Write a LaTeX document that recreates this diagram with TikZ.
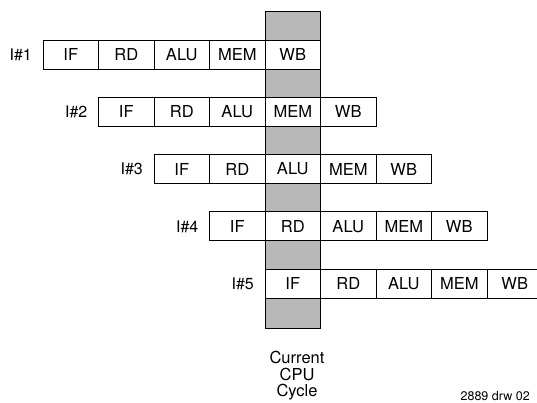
\documentclass[tikz,border=0pt]{standalone}
\usepackage{fontspec}
\setmainfont{TeX Gyre Heros}
\usetikzlibrary{positioning}

\begin{document}
\begin{tikzpicture}[
    x=1pt, y=-1pt,
    stagebox/.style={draw, fill=white, line width=0.9pt, inner sep=0pt, outer sep=0pt,
                     minimum width=55.5pt, minimum height=29pt, font=\fontsize{16.5}{18}\selectfont},
    instlabel/.style={font=\fontsize{16}{18}\selectfont, inner sep=0pt},
    cyclecol/.style={draw, fill=black!28, line width=0.9pt, inner sep=0pt, outer sep=0pt,
                     minimum width=55.7pt, minimum height=317pt},
]
    \useasboundingbox (0,0) rectangle (537,403);
    \clip (0,0) rectangle (537,403);

    % current cycle column
    \node[cyclecol] (cycle) at (292.85, 169.5) {};

    % pipeline stages, one row per instruction
    \foreach \row in {1,...,5} {
        \foreach \st [count=\s] in {IF,RD,ALU,MEM,WB} {
            \node[stagebox] (i\row-\s) at ({70.75+55.5*(\row+\s-2)}, {54.5+57.3*(\row-1)}) {\st};
        }
        \node[instlabel, left=11pt of i\row-1] (lbl\row) {I\#\row};
    }

    \node[align=center, font=\fontsize{16.5}{16.5}\selectfont, inner sep=0pt] (cyctext) at (297, 376) {Current\\CPU\\Cycle};
    \node[anchor=east, font=\fontsize{12.5}{14}\selectfont, inner sep=0pt] (drw) at (530, 396) {2889 drw 02};
\end{tikzpicture}
\end{document}
